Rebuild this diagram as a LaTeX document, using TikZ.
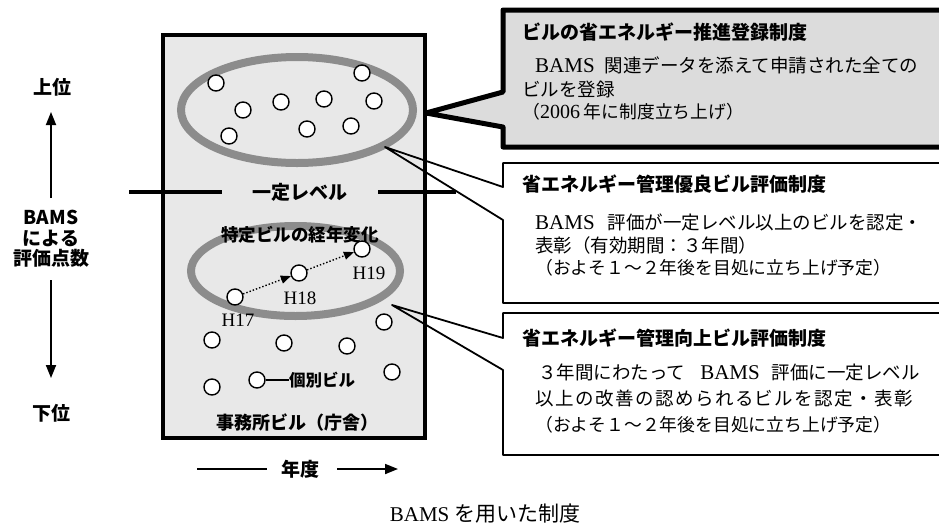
\documentclass[tikz,border=0pt]{standalone}
\usepackage{fontspec}
\setmainfont{Liberation Serif}
\newfontfamily\jpf{Noto Sans CJK JP}
\newfontfamily\latf{Liberation Serif}
\usetikzlibrary{shapes.geometric,arrows.meta}
\definecolor{boxgray}{HTML}{E8E8E8}
\definecolor{calgray}{HTML}{DCDCDC}
\definecolor{ringgray}{HTML}{8C8C8C}
\newcommand{\bamstxt}{{\latf\fontsize{21}{22}\selectfont BAMS}}
\begin{document}
\begin{tikzpicture}[x=1pt,y=-1pt,
  bldg/.style={circle,draw,fill=white,line width=1.4pt,minimum size=16pt,inner sep=0pt},
  ring/.style={ellipse,draw=ringgray,line width=8pt,inner sep=0pt},
  lbl/.style={inner sep=0pt,font=\jpf\bfseries\fontsize{19}{20.5}\selectfont},
  ttl/.style={anchor=west,inner sep=0pt,font=\jpf\bfseries\fontsize{19}{21}\selectfont},
  bodytxt/.style={anchor=west,inner sep=0pt,font=\jpf\fontsize{18.5}{22}\selectfont},
  parentxt/.style={anchor=west,inner sep=0pt,font=\jpf\fontsize{17.8}{22}\selectfont},
  hlab/.style={inner sep=0pt,font=\latf\fontsize{19}{21}\selectfont},
  arr/.style={line width=1.8pt,-{Triangle[length=13pt,width=10pt]}},
  darr/.style={dotted,line width=1.4pt,-{Triangle[length=10pt,width=8pt]}},
  levelline/.style={line width=4.5pt},
  callthick/.style={line width=5pt,fill=calgray,line join=round},
  callthin/.style={line width=1.8pt,line join=round}
]
\useasboundingbox (0,0) rectangle (939,528);

% main box
\draw[line width=4.5pt,fill=boxgray] (163,35) rectangle (425,438);

% ellipses
\node[ring,minimum width=232pt,minimum height=106pt] (upper) at (297,110) {};
\node[ring,minimum width=209pt,minimum height=90pt] (lower) at (295.5,271) {};

% upper buildings
\node[bldg] (u1) at (216,83) {};
\node[bldg] (u2) at (362,73) {};
\node[bldg] (u3) at (243,110) {};
\node[bldg] (u4) at (281,102) {};
\node[bldg] (u5) at (324,99) {};
\node[bldg] (u6) at (374,101) {};
\node[bldg] (u7) at (229,136) {};
\node[bldg] (u8) at (307,129) {};
\node[bldg] (u9) at (351,126) {};

% level
\node[lbl] (level) at (300,192) {一定レベル};
\coordinate (lvA) at (129,192);
\coordinate (lvB) at (222,192);
\coordinate (lvC) at (378,192);
\coordinate (lvD) at (456,192);
\draw[levelline] (lvA) -- (lvB);
\draw[levelline] (lvC) -- (lvD);

% specific building over years
\node[lbl,font=\jpf\bfseries\fontsize{17.5}{20}\selectfont] (trend) at (300,235) {特定ビルの経年変化};
\node[bldg] (h17) at (235,297) {};
\node[bldg] (h18) at (299,273) {};
\node[bldg] (h19) at (362,249) {};
\draw[darr] (h17) -- (h18);
\draw[darr] (h18) -- (h19);
\node[hlab] (l17) at (238,320) {H17};
\node[hlab] (l18) at (300,298) {H18};
\node[hlab] (l19) at (369,273) {H19};

% other buildings
\node[bldg] (o1) at (212,340) {};
\node[bldg] (o2) at (284,343) {};
\node[bldg] (o3) at (347,346) {};
\node[bldg] (o4) at (384,322) {};
\node[bldg] (o5) at (392,372) {};
\node[bldg] (o6) at (212,387) {};
\node[bldg] (o7) at (257,380) {};
\node[lbl,anchor=west,font=\jpf\bfseries\fontsize{16.5}{19}\selectfont] (kobetsu) at (289,380) {個別ビル};
\draw[line width=1.4pt] (o7) -- (kobetsu);

\node[lbl,font=\jpf\bfseries\fontsize{18}{20}\selectfont] (office) at (297,423) {事務所ビル（庁舎）};

% left axis
\node[lbl] (up) at (52,87) {上位};
\node[lbl,align=center] (score) at (51,239) {BAMS\\による\\評価点数};
\node[lbl] (down) at (51,413) {下位};
\coordinate (upA) at (51,198);
\coordinate (upB) at (51,112);
\coordinate (dnA) at (51,280);
\coordinate (dnB) at (51,378);
\draw[arr] (upA) -- (upB);
\draw[arr] (dnA) -- (dnB);

% year axis
\node[lbl] (year) at (300,469) {年度};
\coordinate (yA) at (197,469);
\coordinate (yB) at (267,469);
\coordinate (yC) at (337,469);
\coordinate (yD) at (398,469);
\draw[line width=1.8pt] (yA) -- (yB);
\draw[arr] (yC) -- (yD);

% callouts
\coordinate (tip1) at (426,113);
\coordinate (tip2) at (385,147);
\coordinate (tip3) at (392,305);
\draw[callthick] (950,10) -- (503,10) -- (503,92) -- (tip1) -- (503,127) -- (503,147) -- (950,147) -- cycle;
\draw[callthin] (950,163) -- (503,163) -- (503,187) -- (tip2) -- (503,220) -- (503,303) -- (950,303);
\draw[callthin] (950,313) -- (503,313) -- (503,338) -- (tip3) -- (503,370) -- (503,455) -- (950,455);

% callout 1 text
\node[ttl] (t1) at (522,32) {ビルの省エネルギー推進登録制度};
\node[bodytxt] (b11) at (535,65) {\bamstxt\hspace{10pt}関連データを添えて申請された全ての};
\node[bodytxt] (b12) at (522,89) {ビルを登録};
\node[parentxt] (b13) at (522,112) {（{\latf\fontsize{20}{22}\selectfont 2006} 年に制度立ち上げ）};

% callout 2 text
\node[ttl] (t2) at (522,184) {省エネルギー管理優良ビル評価制度};
\node[bodytxt] (b21) at (535,222) {\bamstxt\hspace{13pt}評価が一定レベル以上のビルを認定・};
\node[bodytxt] (b22) at (535,245) {表彰（有効期間：３年間）};
\node[parentxt] (b23) at (535,268) {（およそ１～２年後を目処に立ち上げ予定）};

% callout 3 text
\node[ttl] (t3) at (522,338) {省エネルギー管理向上ビル評価制度};
\node[bodytxt] (b31) at (538,372) {３年間にわたって\hspace{15pt}\bamstxt\hspace{12pt}評価に一定レベル};
\node[bodytxt] (b32) at (535,398) {\addfontfeature{LetterSpace=8}以上の改善の認められるビルを認定・表彰};
\node[parentxt] (b33) at (535,425) {（およそ１～２年後を目処に立ち上げ予定）};

% caption
\node[inner sep=0pt,font=\jpf\fontsize{21}{24}\selectfont] (cap) at (485,514) {{\latf BAMS} を用いた制度};
\end{tikzpicture}
\end{document}
